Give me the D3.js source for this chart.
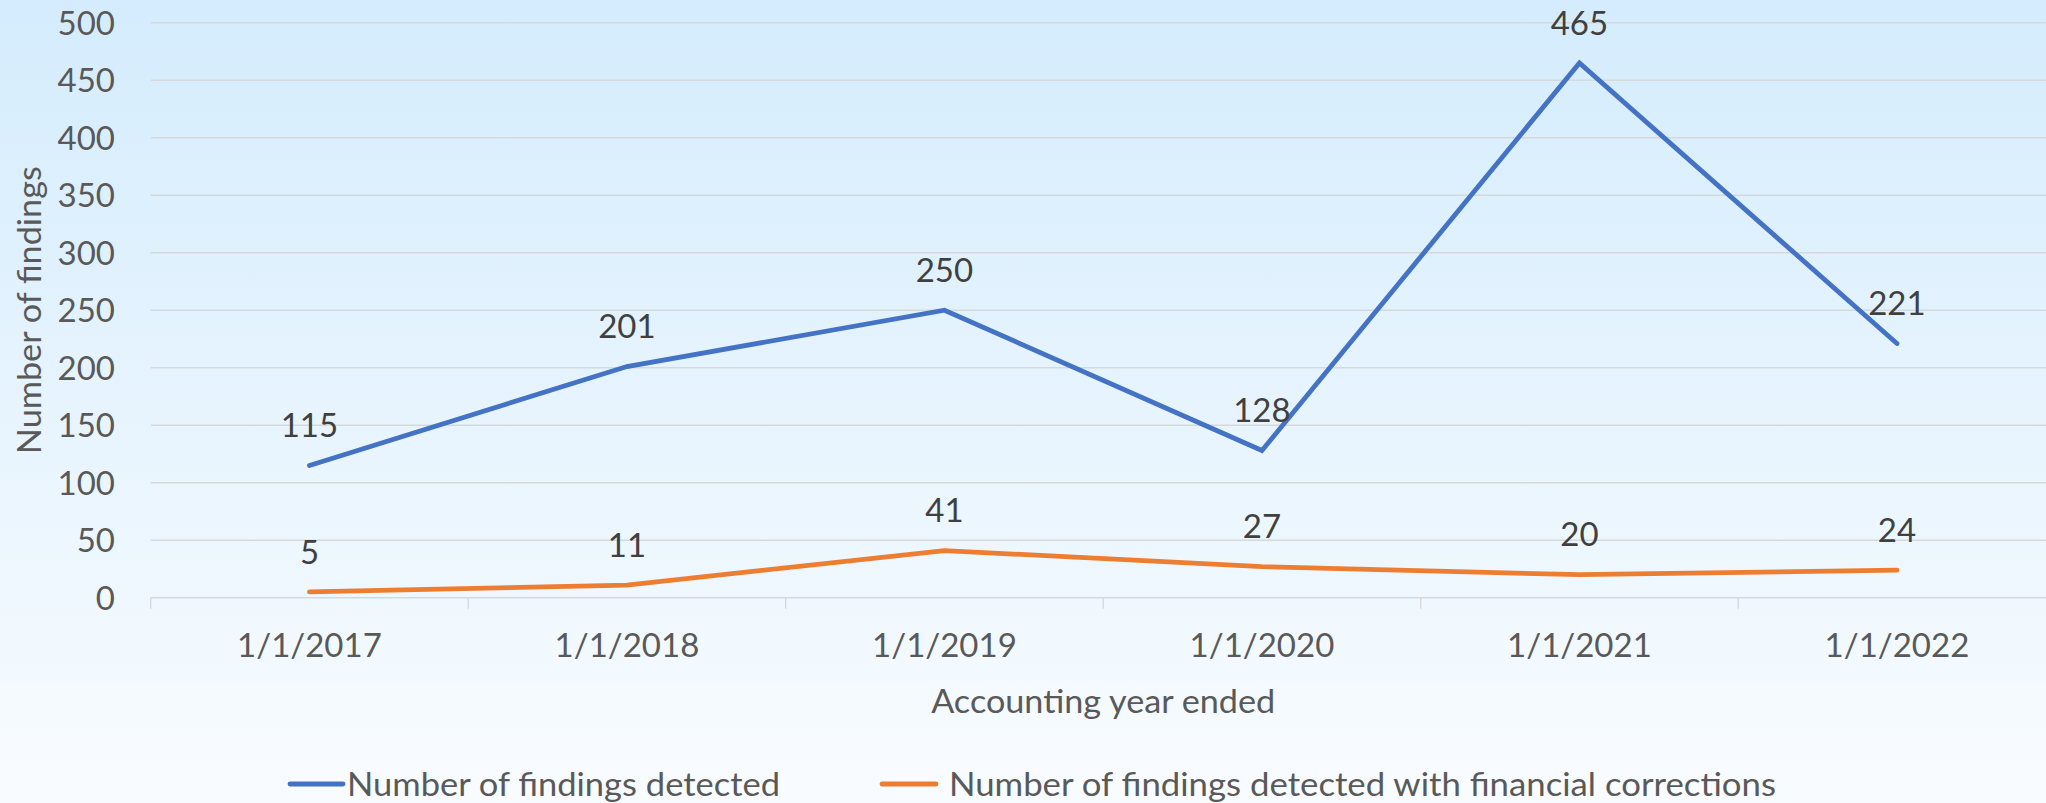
<!DOCTYPE html>
<html><head><meta charset="utf-8">
<script src="https://cdn.jsdelivr.net/npm/d3@7"></script>
<style>html,body{margin:0;padding:0;overflow:hidden;background:#fff}</style>
</head><body><div id="chart"></div>
<script>
const categories = ["1/1/2017","1/1/2018","1/1/2019","1/1/2020","1/1/2021","1/1/2022"];
const detected = [115, 201, 250, 128, 465, 221];
const withCorrections = [5, 11, 41, 27, 20, 24];
const yTicks = [0,50,100,150,200,250,300,350,400,450,500];
const seriesNames = ["Number of findings detected","Number of findings detected with financial corrections"];
const seriesColors = ["#4472C4","#ED7D31"];

(function(){
const W = 2046, H = 803;
const pLeft = 150.7, pRight = 2055.7, pTop = 22.7, pBottom = 597.7;
const FONT = "Lato, 'Open Sans', sans-serif";

const svg = d3.select("#chart").append("svg").attr("width", W).attr("height", H);
const defs = svg.append("defs");
const grad = defs.append("linearGradient").attr("id","bg").attr("x1",0).attr("y1",0).attr("x2",0).attr("y2",1);
grad.append("stop").attr("offset","0%").attr("stop-color","#D4ECFD");
grad.append("stop").attr("offset","100%").attr("stop-color","#F9FCFF");
svg.append("rect").attr("width",W).attr("height",H).attr("fill","url(#bg)");

const x = d3.scaleBand().domain(categories).range([pLeft, pRight]).padding(0);
const y = d3.scaleLinear().domain([0, 500]).range([pBottom, pTop]);

// gridlines
svg.append("g").selectAll("line").data(yTicks.filter(d => d > 0)).join("line")
  .attr("x1", pLeft).attr("x2", pRight)
  .attr("y1", d => y(d)).attr("y2", d => y(d))
  .attr("stroke", "#D6D9DC").attr("stroke-width", 1.4);

// y axis labels
const yAxis = d3.axisLeft(y).tickValues(yTicks).tickSize(0).tickPadding(0);
const gy = svg.append("g").attr("transform", `translate(${115},0)`).call(yAxis);
gy.select(".domain").remove();
gy.selectAll("text").attr("font-family", FONT).attr("font-size", 33).attr("fill", "#595959").attr("dy","0.35em");

// x axis
const xAxis = d3.axisBottom(x).tickSize(0).tickPadding(0);
const gx = svg.append("g").attr("transform", `translate(0,${pBottom})`).call(xAxis);
gx.select(".domain").attr("stroke","#D6D9DC").attr("stroke-width",1.4).attr("d", `M${pLeft},0H${pRight}`);
gx.selectAll("text").attr("font-family", FONT).attr("font-size", 33).attr("fill", "#595959").attr("y", 48).attr("dy","0.35em");
// x tick marks at category boundaries
svg.append("g").selectAll("line").data(categories.concat(["end"])).join("line")
  .attr("x1", (d,i) => pLeft + i * x.bandwidth()).attr("x2", (d,i) => pLeft + i * x.bandwidth())
  .attr("y1", pBottom).attr("y2", pBottom + 11)
  .attr("stroke", "#D6D9DC").attr("stroke-width", 1.4);

// axis titles
svg.append("text").attr("x", (pLeft+pRight)/2).attr("y", 701).attr("dy","0.35em")
  .attr("text-anchor","middle").attr("font-family",FONT).attr("font-size",33).attr("fill","#595959")
  .attr("textLength",344).attr("lengthAdjust","spacingAndGlyphs")
  .text("Accounting year ended");
svg.append("text").attr("transform", `translate(29,${(pTop+pBottom)/2}) rotate(-90)`).attr("dy","0.35em")
  .attr("text-anchor","middle").attr("font-family",FONT).attr("font-size",33).attr("fill","#595959")
  .attr("textLength",288).attr("lengthAdjust","spacingAndGlyphs")
  .text("Number of findings");

// lines
const cx = d => x(d) + x.bandwidth()/2;
const series = [detected, withCorrections];
const line = d3.line().x((d,i) => cx(categories[i])).y(d => y(d));
series.forEach((s, k) => {
  svg.append("path").datum(s).attr("d", line).attr("fill","none")
    .attr("stroke", seriesColors[k]).attr("stroke-width", 4.8)
    .attr("stroke-linecap","round").attr("stroke-linejoin","miter");
});
// data labels
series.forEach((s, k) => {
  svg.append("g").selectAll("text").data(s).join("text")
    .attr("x", (d,i) => cx(categories[i])).attr("y", d => y(d) - 40).attr("dy","0.35em")
    .attr("text-anchor","middle").attr("font-family",FONT).attr("font-size",33).attr("fill","#404040")
    .text(d => d);
});

// legend
const legendItems = [
  {x1: 290, x2: 343, tx: 347, tl: 433},
  {x1: 882, x2: 936, tx: 949, tl: 827}
];
legendItems.forEach((L, k) => {
  svg.append("line").attr("x1",L.x1).attr("x2",L.x2).attr("y1",784).attr("y2",784)
    .attr("stroke",seriesColors[k]).attr("stroke-width",4.8).attr("stroke-linecap","round");
  svg.append("text").attr("x",L.tx).attr("y",784).attr("dy","0.35em")
    .attr("font-family",FONT).attr("font-size",33).attr("fill","#595959")
    .attr("textLength",L.tl).attr("lengthAdjust","spacingAndGlyphs")
    .text(seriesNames[k]);
});
})();
</script></body></html>
